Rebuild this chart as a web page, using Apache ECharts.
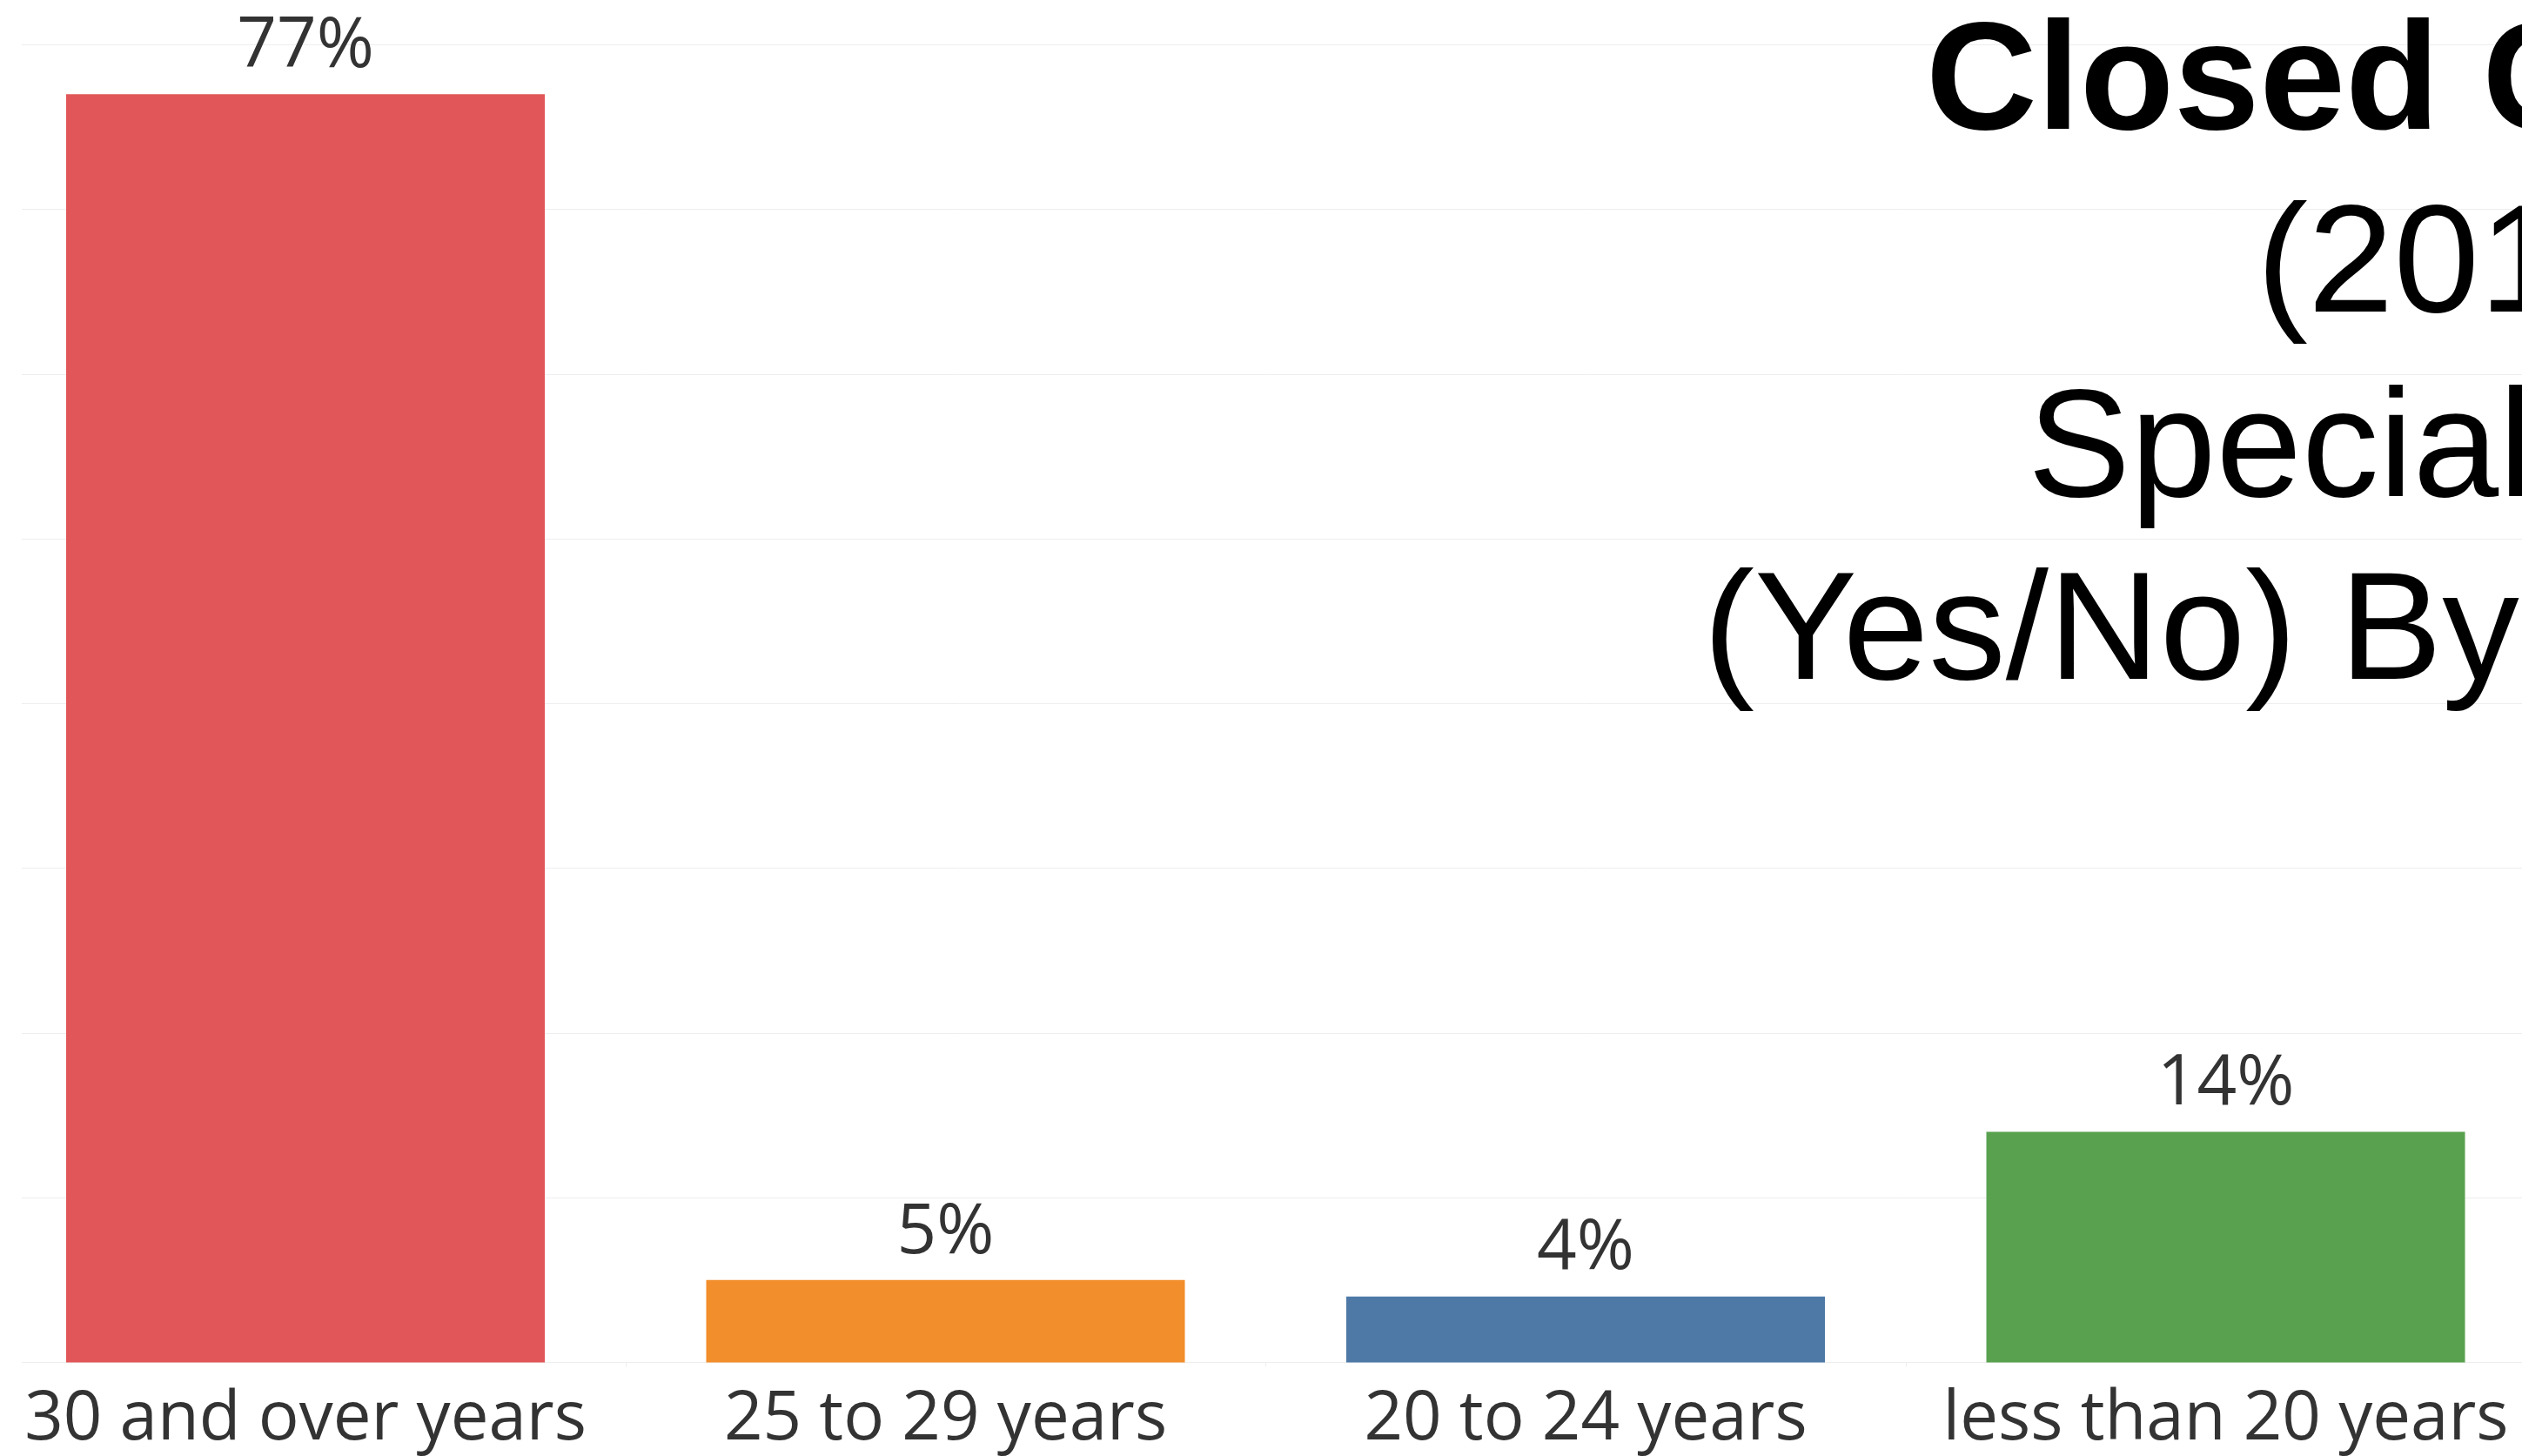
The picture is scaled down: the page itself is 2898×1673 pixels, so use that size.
<!DOCTYPE html>
<html>
<head>
<meta charset="utf-8">
<title>Closed Cases by Years</title>
<script src="https://cdn.jsdelivr.net/npm/echarts@6/dist/echarts.min.js"></script>
<style>
  html, body { margin: 0; padding: 0; background: #ffffff; }
  #chart { width: 2898px; height: 1673px; }
</style>
</head>
<body>
<div id="chart"></div>
<script>
// Bar categories and their shares (percent)
const categories = ['30 and over years', '25 to 29 years', '20 to 24 years', 'less than 20 years'];
const shares = [77, 5, 4, 14];
const barColors = ['#E15759', '#F28E2B', '#4E79A7', '#59A14F'];

// Value axis range and gridline step
const axisMin = 0;
const axisMax = 80;
const axisStep = 10;

// Title lines, placed at the upper right
const titleLines = ['Closed Cases', '(2019)', 'Special', '(Yes/No) By'];

const labelFont = '"Open Sans", "Noto Sans", sans-serif';
const titleFont = '"Liberation Sans", Arial, sans-serif';

// Layout (pixels)
const plotTop = 51.4;
const plotBottom = 107.6;
const titleStyle = [
  { x: 2213, baseline: 151.7, weight: 'bold' },
  { x: 2593, baseline: 361.7, weight: 'normal' },
  { x: 2330, baseline: 573.3, weight: 'normal' },
  { x: 1957, baseline: 783.3, weight: 'normal' }
];
const titleSize = 177;

const chart = echarts.init(document.getElementById('chart'), null, { renderer: 'canvas' });

const option = {
  animation: false,
  backgroundColor: '#ffffff',
  grid: [
    { left: -16.75, right: -27.25, top: plotTop, bottom: plotBottom, containLabel: false, outerBoundsMode: 'none' },
    { left: 25, right: 0, top: plotTop, bottom: plotBottom, containLabel: false, outerBoundsMode: 'none' }
  ],
  xAxis: [
    {
      type: 'category',
      gridIndex: 0,
      data: categories,
      axisLine: { show: false },
      axisTick: { show: true, length: 5, lineStyle: { color: '#eeeeee', width: 1 } },
      axisLabel: {
        interval: 0,
        margin: 27,
        fontSize: 78,
        fontFamily: labelFont,
        color: '#333333'
      },
      splitLine: { show: false }
    },
    { type: 'value', gridIndex: 1, show: false }
  ],
  yAxis: [
    { type: 'value', gridIndex: 0, min: axisMin, max: axisMax, interval: axisStep, show: false },
    {
      type: 'value',
      gridIndex: 1,
      min: axisMin,
      max: axisMax,
      interval: axisStep,
      axisLine: { show: false },
      axisTick: { show: false },
      axisLabel: { show: false },
      splitLine: { show: true, lineStyle: { color: '#eeeeee', width: 1 } }
    }
  ],
  series: [
    {
      type: 'bar',
      xAxisIndex: 0,
      yAxisIndex: 0,
      barWidth: 550,
      data: shares.map((v, i) => ({ value: v, itemStyle: { color: barColors[i] } })),
      label: {
        show: true,
        position: 'top',
        distance: 14,
        formatter: p => p.value + '%',
        fontSize: 80,
        fontFamily: labelFont,
        color: '#333333'
      }
    }
  ],
  graphic: titleLines.map((t, i) => ({
    type: 'text',
    x: titleStyle[i].x,
    y: titleStyle[i].baseline - 141,
    z: 10,
    style: {
      text: t,
      fontSize: titleSize,
      fontFamily: titleFont,
      fontWeight: titleStyle[i].weight,
      fill: '#000000',
      align: 'left',
      verticalAlign: 'top',
      textAlign: 'left',
      textVerticalAlign: 'top'
    }
  }))
};

chart.setOption(option);
</script>
</body>
</html>
